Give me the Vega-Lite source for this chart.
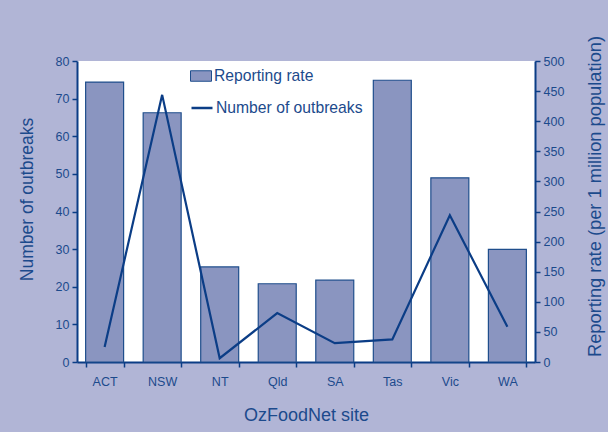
{
  "$schema": "https://vega.github.io/schema/vega-lite/v6.json",
  "width": 458,
  "height": 301,
  "autosize": {"type": "none"},
  "padding": {"left": 77, "top": 61, "right": 73, "bottom": 70},
  "background": "#b1b5d6",
  "config": {
    "view": {"fill": "white", "stroke": null},
    "font": "Liberation Sans",
    "axis": {
      "domainColor": "#0b3d86",
      "domainWidth": 2,
      "tickColor": "#0b3d86",
      "tickWidth": 1.5,
      "tickSize": 5,
      "labelColor": "#1c4a8c",
      "labelFontSize": 12.5,
      "titleColor": "#1c4a8c",
      "titleFontSize": 17.5,
      "titleFontWeight": "normal",
      "grid": false
    },
    "legend": {
      "labelColor": "#1c4a8c",
      "labelFontSize": 15.7,
      "labelFont": "Liberation Sans",
      "labelOffset": 2
    }
  },
  "data": {
    "values": [
      {"site": "ACT", "rate": 465, "outbreaks": 4},
      {"site": "NSW", "rate": 414, "outbreaks": 71},
      {"site": "NT", "rate": 158, "outbreaks": 1},
      {"site": "Qld", "rate": 130, "outbreaks": 13},
      {"site": "SA", "rate": 136, "outbreaks": 5},
      {"site": "Tas", "rate": 468, "outbreaks": 6},
      {"site": "Vic", "rate": 306, "outbreaks": 39},
      {"site": "WA", "rate": 187, "outbreaks": 9.4}
    ]
  },
  "encoding": {
    "x": {
      "field": "site",
      "type": "nominal",
      "sort": null,
      "scale": {"paddingInner": 0.34, "paddingOuter": 0.15},
      "axis": {
        "title": "OzFoodNet site",
        "titleFontSize": 18,
        "labelAngle": 0,
        "tickBand": "extent",
        "labelPadding": 8,
        "titlePadding": 19,
        "domainWidth": 2
      }
    }
  },
  "layer": [
    {
      "mark": {"type": "bar", "stroke": "#1f4e8c", "strokeWidth": 1.2},
      "encoding": {
        "y": {
          "field": "rate",
          "type": "quantitative",
          "scale": {"domain": [0, 500]},
          "axis": {
            "orient": "right",
            "values": [0, 50, 100, 150, 200, 250, 300, 350, 400, 450, 500],
            "title": "Reporting rate (per 1 million population)",
            "titleFontSize": 18.3,
            "titleAngle": 270,
            "titleBaseline": "middle",
            "titleAlign": "center",
            "titleX": 60,
            "titleY": 135,
            "labelPadding": 3
          }
        },
        "fill": {
          "datum": "Reporting rate",
          "type": "nominal",
          "scale": {"range": ["#8a95c0"]},
          "legend": {
            "title": null,
            "orient": "none",
            "legendX": 113,
            "legendY": 4,
            "symbolType": "M-1,-0.5H1V0.5H-1Z",
            "symbolSize": 441,
            "symbolStrokeColor": "#1f4e8c",
            "symbolStrokeWidth": 1,
            "symbolOpacity": 1
          }
        }
      }
    },
    {
      "mark": {"type": "line", "strokeWidth": 2.2},
      "encoding": {
        "y": {
          "field": "outbreaks",
          "type": "quantitative",
          "scale": {"domain": [0, 80]},
          "axis": {
            "orient": "left",
            "values": [0, 10, 20, 30, 40, 50, 60, 70, 80],
            "title": "Number of outbreaks",
            "titleAngle": 270,
            "titleBaseline": "middle",
            "titleAlign": "center",
            "titleX": -50,
            "titleY": 138,
            "labelPadding": 3
          }
        },
        "stroke": {
          "datum": "Number of outbreaks",
          "type": "nominal",
          "scale": {"range": ["#0b3d86"]},
          "legend": {
            "title": null,
            "orient": "none",
            "legendX": 113,
            "legendY": 35,
            "symbolType": "stroke",
            "symbolSize": 441,
            "symbolStrokeWidth": 2.5
          }
        }
      }
    }
  ],
  "resolve": {"scale": {"y": "independent", "fill": "independent", "stroke": "independent"}}
}
